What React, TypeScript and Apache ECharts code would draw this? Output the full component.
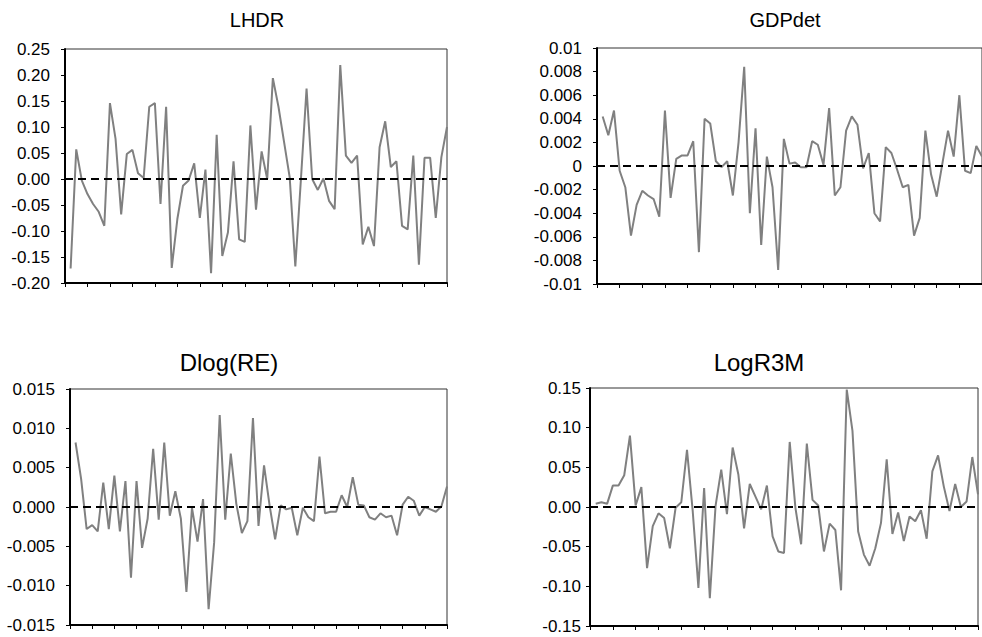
import React, { useEffect, useRef } from "react";
import * as echarts from "echarts";

const lhdr = [-0.172, 0.057, -0.003, -0.029, -0.048, -0.063, -0.09, 0.146, 0.077, -0.068, 0.048, 0.056, 0.011, 0.002, 0.139, 0.146, -0.048, 0.139, -0.171, -0.077, -0.013, -0.003, 0.03, -0.075, 0.018, -0.181, 0.085, -0.148, -0.103, 0.034, -0.116, -0.121, 0.103, -0.059, 0.053, 0.0, 0.194, 0.139, 0.071, 0.003, -0.168, 0.0, 0.174, 0.0, -0.021, 0.001, -0.042, -0.058, 0.219, 0.045, 0.031, 0.045, -0.126, -0.092, -0.129, 0.061, 0.111, 0.023, 0.034, -0.09, -0.097, 0.045, -0.165, 0.041, 0.041, -0.075, 0.042, 0.1];

const gdpdet = [0.0042, 0.0026, 0.0047, -0.0004, -0.0018, -0.0059, -0.0033, -0.0021, -0.0025, -0.0028, -0.0043, 0.0047, -0.0027, 0.0006, 0.0009, 0.0009, 0.0021, -0.0073, 0.004, 0.0036, 0.0004, -0.0001, 0.0004, -0.0025, 0.002, 0.0084, -0.004, 0.0032, -0.0067, 0.0008, -0.0018, -0.0088, 0.0023, 0.0002, 0.0003, -0.0001, -0.0001, 0.0021, 0.0018, 0.0001, 0.0049, -0.0025, -0.0018, 0.003, 0.0042, 0.0035, -0.0002, 0.0011, -0.004, -0.0047, 0.0016, 0.0011, -0.0003, -0.0018, -0.0016, -0.0059, -0.0044, 0.003, -0.0007, -0.0026, 0.0002, 0.003, 0.0008, 0.006, -0.0004, -0.0006, 0.0017, 0.0008];

const dlogRE = [0.0082, 0.0036, -0.0028, -0.0023, -0.0031, 0.0031, -0.0028, 0.004, -0.0031, 0.0033, -0.009, 0.0033, -0.0052, -0.0015, 0.0074, -0.0016, 0.0082, -0.0011, 0.002, -0.0015, -0.0108, -0.0001, -0.0044, 0.001, -0.013, -0.0045, 0.0117, -0.0016, 0.0068, 0.0004, -0.0033, -0.0018, 0.0113, -0.0024, 0.0053, 0.0002, -0.0041, 0.0002, -0.0003, -0.0001, -0.0036, -0.0001, -0.0013, -0.0018, 0.0064, -0.0008, -0.0006, -0.0006, 0.0015, 0.0, 0.0038, 0.0003, 0.0002, -0.0013, -0.0016, -0.0008, -0.0013, -0.0011, -0.0036, 0.0003, 0.0013, 0.0008, -0.0011, 0.0, -0.0003, -0.0006, 0.0001, 0.0026];

const logR3M = [0.004, 0.006, 0.004, 0.027, 0.027, 0.04, 0.09, 0.002, 0.025, -0.077, -0.024, -0.008, -0.014, -0.052, -0.001, 0.006, 0.072, -0.005, -0.102, 0.024, -0.115, 0.001, 0.047, -0.009, 0.075, 0.041, -0.027, 0.029, 0.013, -0.003, 0.027, -0.037, -0.056, -0.058, 0.082, -0.001, -0.047, 0.08, 0.009, 0.002, -0.056, -0.021, -0.029, -0.105, 0.148, 0.096, -0.031, -0.06, -0.074, -0.052, -0.02, 0.06, -0.034, -0.007, -0.043, -0.012, -0.018, -0.004, -0.04, 0.045, 0.065, 0.026, -0.005, 0.029, 0.0, 0.007, 0.063, 0.016];

const titles = ["LHDR", "GDPdet", "Dlog(RE)", "LogR3M"];
const seriesData = [lhdr, gdpdet, dlogRE, logR3M];
const yMins = [-0.2, -0.01, -0.015, -0.15];
const yMaxs = [0.25, 0.01, 0.015, 0.15];
const yIntervals = [0.05, 0.002, 0.005, 0.05];
const yDecimals = [2, -1, 3, 2];

const grids = [
  { left: 65, right: 535, top: 49, bottom: 354 },
  { left: 597, right: -4, top: 48, bottom: 353 },
  { left: 70, right: 535, top: 389, bottom: 12 },
  { left: 590, right: 4, top: 388, bottom: 11 },
];
const titlePos = [
  { x: 257, y: 10, size: 20 },
  { x: 785, y: 10, size: 20 },
  { x: 229, y: 350, size: 24 },
  { x: 759, y: 350, size: 24 },
];
const labelMargins = [15, 15, 15, 9];

const FONT = "Liberation Sans, Arial, sans-serif";

export default function App() {
  const ref = useRef<HTMLDivElement>(null);
  useEffect(() => {
    if (!ref.current) return;
    const chart = echarts.init(ref.current, undefined, { renderer: "svg" });
    const option: any = {
      animation: false,
      backgroundColor: "#fff",
      title: titles.map((t, i) => ({
        text: t,
        left: titlePos[i].x,
        top: titlePos[i].y,
        textAlign: "center",
        padding: 0,
        textStyle: { fontSize: titlePos[i].size, fontWeight: "normal", fontFamily: FONT, color: "#000" },
      })),
      grid: grids.map((g) => ({
        ...g,
        show: true,
        borderColor: "#333",
        borderWidth: 1,
        backgroundColor: "transparent",
        containLabel: false,
      })),
      xAxis: seriesData.map((_, i) => ({
        type: "value",
        gridIndex: i,
        min: 0,
        max: 68,
        interval: 4,
        axisLine: { show: true, onZero: false, lineStyle: { color: "#000", width: 2 } },
        axisTick: { show: true, inside: false, length: 4, lineStyle: { color: "#000", width: 1 } },
        axisLabel: { show: false },
        splitLine: { show: false },
      })),
      yAxis: seriesData.map((_, i) => ({
        type: "value",
        gridIndex: i,
        min: yMins[i],
        max: yMaxs[i],
        interval: yIntervals[i],
        axisLine: { show: true, onZero: false, lineStyle: { color: "#000", width: 2 } },
        axisTick: { show: true, inside: false, length: 4, lineStyle: { color: "#000", width: 1 } },
        axisLabel: {
          show: true,
          margin: labelMargins[i],
          fontSize: 17,
          fontFamily: FONT,
          color: "#000",
          formatter: (v: number) =>
            yDecimals[i] < 0
              ? String(parseFloat(v.toFixed(4)) || 0)
              : (Math.abs(v) < 1e-9 ? 0 : v).toFixed(yDecimals[i]),
        },
        splitLine: { show: false },
      })),
      series: seriesData.map((d, i) => ({
        type: "line",
        xAxisIndex: i,
        yAxisIndex: i,
        data: d.map((v, k) => [k + 1, v]),
        symbol: "none",
        lineStyle: { color: "#808080", width: 2 },
        clip: true,
        markLine: {
          silent: true,
          symbol: ["none", "none"],
          label: { show: false },
          lineStyle: { color: "#000", type: [8, 5], width: 2 },
          data: [{ yAxis: 0 }],
        },
      })),
    };
    chart.setOption(option);
    return () => chart.dispose();
  }, []);
  return (
    <div
      ref={ref}
      style={{ position: "absolute", left: 0, top: 0, width: 982, height: 637, background: "#fff" }}
    />
  );
}
